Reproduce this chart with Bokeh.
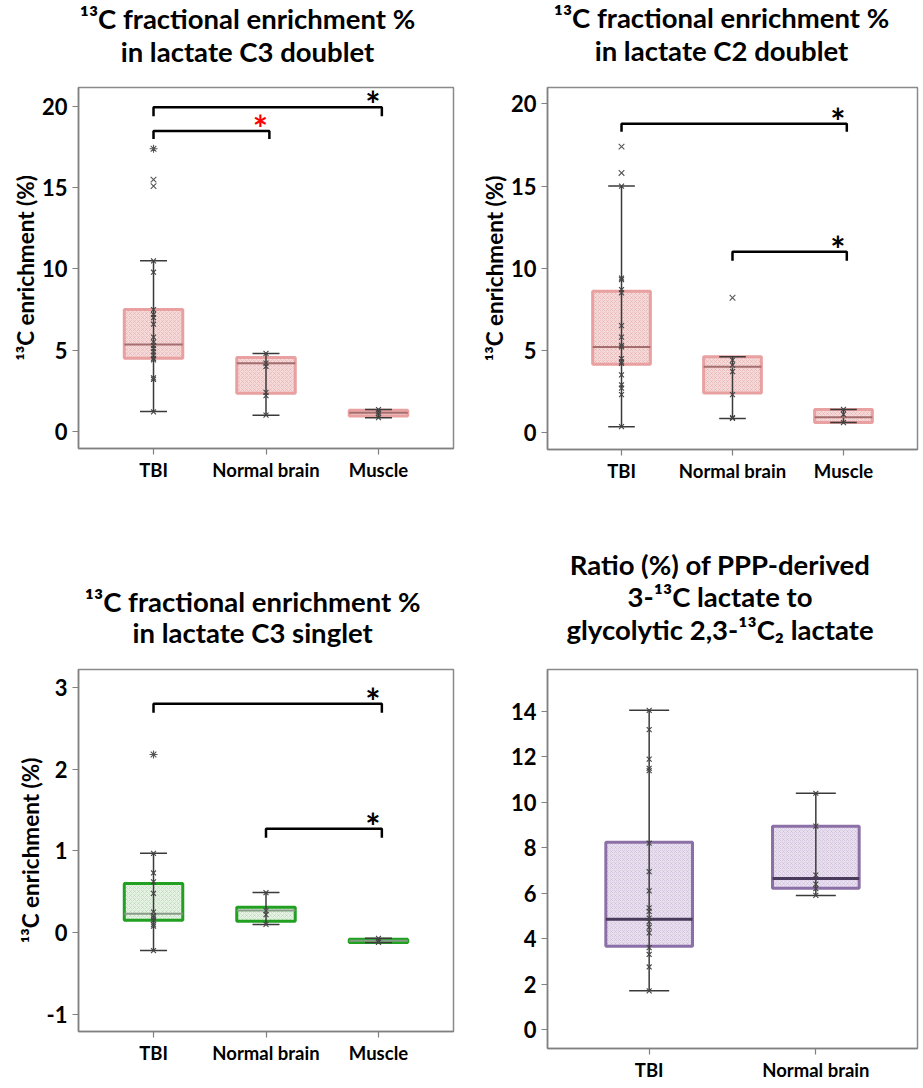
from bokeh.plotting import figure
from bokeh.models import FixedTicker, Range1d, ColumnDataSource
from bokeh.layouts import row, column
from bokeh.embed import file_html
from bokeh.resources import INLINE
from bokeh.core.properties import value

FONT = "Lato"

CATS3 = ["TBI", "Normal brain", "Muscle"]
CATS2 = ["TBI", "Normal brain"]

# ---- Panel A: 13C fractional enrichment % in lactate C3 doublet ----
A_q1 = [4.5, 2.35, 0.95]
A_med = [5.35, 4.2, 1.15]
A_q3 = [7.5, 4.55, 1.3]
A_lo = [1.23, 1.0, 0.85]
A_hi = [10.5, 4.8, 1.35]
A_TBI = [10.5, 9.8, 7.5, 7.2, 7.0, 6.6, 5.8, 5.5, 5.3, 5.1, 4.9, 4.7, 4.5, 4.4, 3.3, 3.2, 1.2]
A_NB = [4.8, 4.2, 4.0, 2.4, 2.2, 1.0]
A_MU = [1.35, 1.2, 1.1, 0.85]
A_OUT_X = [1, 1, 1]
A_OUT_Y = [17.4, 15.5, 15.1]
A_OUT_M = ["asterisk", "x", "x"]

# ---- Panel B: lactate C2 doublet ----
B_q1 = [4.15, 2.4, 0.6]
B_med = [5.2, 4.0, 0.92]
B_q3 = [8.6, 4.6, 1.4]
B_lo = [0.35, 0.85, 0.6]
B_hi = [15.0, 4.6, 1.4]
B_TBI = [15.0, 9.4, 9.3, 8.7, 8.5, 6.5, 5.8, 5.3, 5.2, 4.5, 4.3, 4.2, 3.5, 2.9, 2.7, 2.3, 0.35]
B_NB = [4.4, 4.1, 3.7, 2.3, 0.9, 0.85]
B_MU = [1.4, 1.1, 0.6]
B_OUT_X = [1, 1, 2]
B_OUT_Y = [17.4, 15.8, 8.2]
B_OUT_M = ["x", "x", "x"]

# ---- Panel C: lactate C3 singlet ----
C_q1 = [0.15, 0.14, -0.12]
C_med = [0.23, 0.27, -0.10]
C_q3 = [0.60, 0.31, -0.08]
C_lo = [-0.22, 0.10, -0.12]
C_hi = [0.97, 0.49, -0.07]
C_TBI = [0.97, 0.73, 0.62, 0.48, 0.25, 0.21, 0.18, 0.15, 0.10, 0.08, -0.22]
C_NB = [0.49, 0.27, 0.22, 0.10]
C_MU = [-0.07, -0.10, -0.12]
C_OUT_X = [1]
C_OUT_Y = [2.18]
C_OUT_M = ["asterisk"]

# ---- Panel D: ratio PPP / glycolytic ----
D_q1 = [3.66, 6.22]
D_med = [4.85, 6.65]
D_q3 = [8.24, 8.95]
D_lo = [1.7, 5.9]
D_hi = [14.05, 10.4]
D_TBI = [14.05, 13.2, 11.9, 11.5, 11.4, 8.2, 6.95, 6.1, 5.35, 5.2, 4.9, 4.75, 4.5, 4.25, 3.6, 3.3, 2.75, 1.7]
D_NB = [10.4, 8.95, 6.8, 6.4, 6.2, 5.9]
D_OUT_X = []
D_OUT_Y = []
D_OUT_M = []

# significance brackets: (left cat, right cat, y, drop, colour)
A_BR = [(1, 3, 19.95, 0.55, "black"), (1, 2, 18.5, 0.5, "#ff0000")]
B_BR = [(1, 3, 18.8, 0.5, "black"), (2, 3, 11.0, 0.55, "black")]
C_BR = [(1, 3, 2.80, 0.11, "black"), (2, 3, 1.27, 0.11, "black")]

A_TICKS = [0, 5, 10, 15, 20]
B_TICKS = [0, 5, 10, 15, 20]
C_TICKS = [-1, 0, 1, 2, 3]
D_TICKS = [0, 2, 4, 6, 8, 10, 12, 14]

YLAB = "¹³C enrichment (%)"

A_TITLE = ["¹³C fractional enrichment %", "in lactate C3 doublet"]
B_TITLE = ["¹³C fractional enrichment %", "in lactate C2 doublet"]
C_TITLE = ["¹³C fractional enrichment %", "in lactate C3 singlet"]
D_TITLE = ["Ratio (%) of PPP-derived", "3-¹³C lactate to", "glycolytic 2,3-¹³C₂ lactate"]

PINK = dict(fill="#f6d9d9", line="#e9a0a0", hatch="#d89a9a", med="#a46d6d", medw=2)
GREEN = dict(fill="#e6f2e3", line="#22a022", hatch="#9cc89c", med="#879c87", medw=2)
PURPLE = dict(fill="#e9e0ef", line="#8a70a6", hatch="#b9a6cc", med="#4a3a5c", medw=3)

TITLE_SIZE = 27.5


def title_fig(lines, baselines, cx, h, fw, mbl, mbr):
    """A strip without axes that holds the (multi-line) panel title.
    Coordinates inside the strip are pixels: x from the frame's left, y from the top."""
    t = figure(width=mbl + fw + mbr, height=h, title=None,
               min_border_left=mbl, min_border_right=mbr, min_border_top=0, min_border_bottom=0,
               x_range=Range1d(0, fw), y_range=Range1d(h, 0),
               x_axis_type=None, y_axis_type=None,
               output_backend="svg", toolbar_location=None, tools="")
    t.outline_line_color = None
    t.background_fill_color = "white"
    t.border_fill_color = "white"
    shift = 0.387 * TITLE_SIZE  # baseline sits this far below the middle of the line box
    t.text(x=[cx - mbl] * len(lines), y=[b - shift for b in baselines], text=lines,
           text_align="center", text_baseline="middle",
           text_font=value(FONT), text_font_style="bold", text_font_size=f"{TITLE_SIZE}px",
           text_color="black")
    return t


def make_panel(cats, q1, med, q3, lo, hi, groups, ox, oy, om, st, xr, yr, ticks,
               fw, fh, mbl, mbr, mbt, mbb, ylab, brackets):
    p = figure(width=mbl + fw + mbr, height=mbt + fh + mbb, title=None,
               min_border_left=mbl, min_border_right=mbr,
               min_border_top=mbt, min_border_bottom=mbb,
               x_range=Range1d(*xr), y_range=Range1d(*yr),
               output_backend="svg", toolbar_location=None, tools="")
    p.xgrid.visible = False
    p.ygrid.visible = False
    p.outline_line_color = "#8a8a8a"
    p.outline_line_width = 1.5
    p.background_fill_color = "white"
    p.border_fill_color = "white"

    xs = list(range(1, len(cats) + 1))
    p.xaxis.ticker = FixedTicker(ticks=xs)
    p.xaxis.major_label_overrides = {i: c for i, c in zip(xs, cats)}
    p.yaxis.ticker = FixedTicker(ticks=ticks)
    # plain hyphen for negative tick labels, as in the original
    p.yaxis.major_label_overrides = {t: "-" + str(abs(t)) for t in ticks if t < 0}
    for ax in (p.xaxis, p.yaxis):
        ax.axis_line_color = "#808080"
        ax.axis_line_width = 1.5
        ax.major_tick_line_color = "#808080"
        ax.major_tick_line_width = 1.2
        ax.major_tick_in = 0
        ax.major_tick_out = 6
        ax.minor_tick_line_color = None
        ax.major_label_text_font = FONT
        ax.major_label_text_font_style = "bold"
        ax.major_label_text_color = "black"
    p.xaxis.major_label_text_font_size = "18.5px"
    p.xaxis.major_label_standoff = 4
    p.yaxis.major_label_text_font_size = "22px"
    p.yaxis.major_label_standoff = 5
    if ylab:
        p.yaxis.axis_label = ylab
        p.yaxis.axis_label_text_font = FONT
        p.yaxis.axis_label_text_font_style = "bold"
        p.yaxis.axis_label_text_font_size = "22.5px"
        p.yaxis.axis_label_text_color = "black"
        p.yaxis.axis_label_standoff = 0

    src = ColumnDataSource(dict(x=xs, q1=q1, med=med, q3=q3, lo=lo, hi=hi,
                                x0=[x - 0.26 for x in xs], x1=[x + 0.26 for x in xs],
                                c0=[x - 0.12 for x in xs], c1=[x + 0.12 for x in xs]))
    p.vbar(x="x", width=0.52, top="q3", bottom="q1", source=src,
           fill_color=st["fill"], line_color=st["line"], line_width=3,
           hatch_pattern="x", hatch_color=st["hatch"], hatch_scale=4,
           hatch_weight=0.6, hatch_alpha=0.6)
    p.segment(x0="x", y0="lo", x1="x", y1="hi", source=src, line_color="#3a3a3a", line_width=1.5)
    p.segment(x0="c0", y0="lo", x1="c1", y1="lo", source=src, line_color="#3a3a3a", line_width=1.5)
    p.segment(x0="c0", y0="hi", x1="c1", y1="hi", source=src, line_color="#3a3a3a", line_width=1.5)
    p.segment(x0="x0", y0="med", x1="x1", y1="med", source=src, line_color=st["med"], line_width=st["medw"])

    px, py = [], []
    for i, g in enumerate(groups):
        px += [xs[i]] * len(g)
        py += g
    p.scatter(px, py, marker="x", size=7, line_color="#444444", line_width=1.1)
    if ox:
        p.scatter(x=ox, y=oy, marker=om, size=8, line_color="#555555", line_width=1.1)

    for (a, b, y, d, col) in brackets:
        xa = a
        xb = b + 0.03
        p.line([xa, xa, xb, xb], [y - d, y, y, y - d], line_color="black", line_width=2.5)
        p.text(x=[xb], y=[y], text=["*"], x_offset=-9, y_offset=-3,
               text_align="center", text_baseline="middle",
               text_font=value(FONT), text_font_style="bold",
               text_font_size="36px", text_color=col)
    return p


# left column (x from 0), right column (x from 477)
tA = title_fig(A_TITLE, [29, 62], 247, 67, 375, 78, 24)
pA = make_panel(CATS3, A_q1, A_med, A_q3, A_lo, A_hi, [A_TBI, A_NB, A_MU],
                A_OUT_X, A_OUT_Y, A_OUT_M, PINK, (0.333, 3.667), (-1.05, 21.17), A_TICKS,
                375, 361, 78, 24, 20, 120, YLAB, A_BR)
tC = title_fig(C_TITLE, [612 - 568, 643 - 568], 252, 81, 379, 76, 22)
pC = make_panel(CATS3, C_q1, C_med, C_q3, C_lo, C_hi, [C_TBI, C_NB, C_MU],
                C_OUT_X, C_OUT_Y, C_OUT_M, GREEN, (0.333, 3.667), (-1.21, 3.22), C_TICKS,
                379, 362, 76, 22, 20, 55, YLAB, C_BR)

tB = title_fig(B_TITLE, [28, 61], 721 - 477, 67, 370, 70, 4)
pB = make_panel(CATS3, B_q1, B_med, B_q3, B_lo, B_hi, [B_TBI, B_NB, B_MU],
                B_OUT_X, B_OUT_Y, B_OUT_M, PINK, (0.333, 3.667), (-1.04, 21.0), B_TICKS,
                370, 362, 70, 4, 20, 91, YLAB, B_BR)
tD = title_fig(D_TITLE, [575 - 540, 607 - 540, 640 - 540], 720 - 477, 109, 371, 70, 3)
pD = make_panel(CATS2, D_q1, D_med, D_q3, D_lo, D_hi, [D_TBI, D_NB],
                D_OUT_X, D_OUT_Y, D_OUT_M, PURPLE, (0.39, 2.61), (-0.84, 15.85), D_TICKS,
                371, 379, 70, 3, 20, 38, None, [])

layout = row(column(tA, pA, tC, pC), column(tB, pB, tD, pD))
open("out.html", "w").write(file_html(layout, INLINE))
